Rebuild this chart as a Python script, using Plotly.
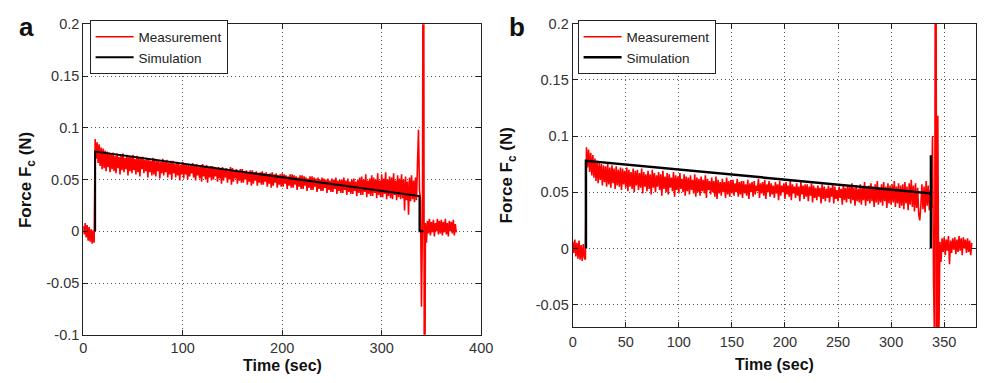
import numpy as np
import plotly.graph_objects as go

# ---------------- data (forces in mN) ----------------
# Panel a: measurement sampled every 1 s from t = 0
meas_a_mN = [
    5, -3, 8, -6, 6, -9, 4, -10, 2, -12,
    1, -11, 89, 70, 86, 66, 84, 63, 81, 60,
    80, 61, 78, 58, 77, 62, 76, 57, 75, 60,
    76, 58, 73, 56, 75, 61, 72, 55, 74, 59,
    75, 57, 71, 60, 74, 54, 73, 58, 72, 56,
    74, 59, 70, 55, 73, 57, 71, 53, 72, 60,
    72, 56, 69, 58, 71, 52, 70, 57, 68, 54,
    71, 55, 70, 53, 68, 58, 69, 51, 67, 56,
    70, 54, 67, 57, 69, 52, 66, 55, 68, 50,
    68, 56, 65, 52, 67, 54, 66, 49, 64, 55,
    67, 51, 66, 55, 64, 50, 65, 53, 63, 56,
    66, 52, 63, 49, 65, 54, 62, 51, 64, 48,
    65, 53, 62, 50, 64, 47, 61, 52, 63, 49,
    63, 50, 62, 53, 60, 48, 62, 51, 61, 46,
    62, 49, 60, 52, 61, 47, 59, 50, 62, 45,
    61, 48, 59, 51, 60, 46, 58, 49, 60, 47,
    60, 47, 58, 50, 59, 45, 57, 48, 59, 44,
    59, 46, 57, 49, 58, 44, 56, 47, 57, 45,
    58, 45, 56, 48, 57, 43, 55, 46, 56, 42,
    57, 44, 55, 47, 56, 42, 54, 45, 55, 43,
    56, 43, 55, 46, 54, 41, 53, 44, 55, 42,
    55, 42, 54, 45, 53, 40, 52, 43, 54, 41,
    54, 41, 53, 44, 52, 39, 51, 42, 53, 40,
    53, 40, 52, 43, 51, 38, 52, 41, 50, 39,
    52, 39, 51, 42, 50, 37, 51, 40, 49, 38,
    51, 38, 50, 41, 52, 36, 49, 39, 50, 37,
    50, 37, 52, 40, 49, 35, 51, 38, 48, 36,
    50, 36, 51, 39, 48, 34, 50, 37, 52, 35,
    53, 35, 50, 38, 55, 33, 49, 36, 51, 34,
    54, 34, 52, 37, 50, 32, 56, 35, 49, 33,
    55, 33, 51, 36, 57, 31, 50, 34, 53, 32,
    52, 31, 56, 35, 49, 30, 54, 33, 51, 31,
    55, 32, 50, 20, 53, 30, 48, 16, 52, 29,
    54, 31, 49, 28, 52, 30, 65, 98, 40, 30,
    -73, 10, 500, -300, 8, -11, 10, -2, 12, -4,
    9, -1, 11, -5, 8, 0, 12, -3, 10, -2,
    11, -4, 9, -1, 12, -3, 8, -5, 10, 0,
    9, -2, 11, -4, 7, -1,
]
sim_a_t = [12, 12, 338, 338, 342]
sim_a_N = [0.0, 0.077, 0.034, 0.0, 0.0]

# Panel b: measurement sampled every 1 s from t = 0
meas_b_mN = [
    6, -4, 8, -7, 5, -9, 7, -10, 3, -11,
    4, -8, -10, 90, 72, 88, 68, 85, 65, 83,
    63, 80, 60, 78, 58, 76, 61, 75, 56, 74,
    59, 73, 55, 75, 57, 72, 54, 74, 58, 71,
    53, 73, 56, 70, 55, 72, 52, 71, 57, 69,
    54, 72, 51, 70, 55, 68, 53, 71, 50, 69,
    56, 70, 52, 67, 54, 71, 49, 68, 55, 66,
    51, 69, 53, 66, 48, 70, 54, 67, 50, 65,
    55, 68, 52, 66, 47, 69, 53, 64, 50, 67,
    48, 66, 54, 63, 51, 68, 46, 65, 52, 64,
    49, 67, 53, 62, 50, 66, 47, 64, 51, 63,
    48, 65, 52, 61, 49, 66, 46, 63, 50, 62,
    47, 64, 51, 61, 49, 65, 45, 62, 52, 60,
    48, 63, 50, 60, 46, 64, 44, 61, 49, 59,
    47, 62, 50, 59, 45, 63, 48, 60, 46, 61,
    49, 61, 47, 58, 50, 62, 46, 59, 48, 60,
    45, 60, 49, 57, 47, 61, 44, 58, 50, 59,
    46, 60, 48, 56, 51, 62, 45, 58, 49, 59,
    47, 61, 44, 57, 50, 60, 46, 58, 48, 56,
    45, 59, 49, 57, 43, 60, 47, 56, 50, 58,
    44, 59, 48, 56, 46, 60, 43, 57, 49, 55,
    45, 58, 47, 55, 42, 59, 48, 56, 44, 57,
    46, 57, 42, 55, 47, 58, 41, 56, 45, 54,
    43, 56, 46, 54, 40, 57, 44, 55, 42, 53,
    45, 56, 41, 54, 46, 57, 40, 55, 44, 52,
    42, 55, 45, 53, 39, 57, 43, 54, 41, 56,
    44, 55, 40, 58, 43, 54, 38, 56, 42, 53,
    41, 57, 39, 55, 43, 59, 38, 54, 42, 56,
    40, 58, 42, 55, 37, 57, 41, 60, 39, 54,
    41, 57, 38, 59, 42, 55, 36, 58, 40, 56,
    39, 57, 41, 60, 37, 55, 40, 58, 36, 56,
    38, 57, 35, 59, 40, 55, 34, 58, 39, 61,
    37, 56, 33, 58, 36, 54, 30, 25, 38, 57,
    35, 55, 32, 60, 38, 56, 34, 52, 36, 100,
    -30, -90, 500, -200, 118, -80, 6, -12, 9, -3,
    10, -6, 8, -2, 11, -14, 7, -4, 9, -1,
    10, -5, 8, -3, 11, -2, 9, -6, 10, 0,
    8, -4, 9, -3, 7, -6, 5,
]
sim_b_t = [12.5, 12.5, 337.5, 337.5, 337.5]
sim_b_N = [0.0, 0.078, 0.049, 0.083, 0.0]

# ticks
ya_vals = [-0.1, -0.05, 0, 0.05, 0.1, 0.15, 0.2]
ya_text = ["-0.1", "-0.05", "0", "0.05", "0.1", "0.15", "0.2"]
xa_vals = [0, 100, 200, 300, 400]
yb_vals = [-0.05, 0, 0.05, 0.1, 0.15, 0.2]
yb_text = ["-0.05", "0", "0.05", "0.1", "0.15", "0.2"]
xb_vals = [0, 50, 100, 150, 200, 250, 300, 350]

# ---------------- figure ----------------
t_a = np.arange(len(meas_a_mN))
t_b = np.arange(len(meas_b_mN))
meas_a = np.array(meas_a_mN) / 1000.0
meas_b = np.array(meas_b_mN) / 1000.0

FONT = "Liberation Sans, Arial, sans-serif"
RED = "#ff0000"

fig = go.Figure()
fig.add_trace(go.Scatter(x=t_a, y=meas_a, mode="lines", name="Measurement",
                         line=dict(color=RED, width=1.6), xaxis="x", yaxis="y",
                         legend="legend"))
fig.add_trace(go.Scatter(x=sim_a_t, y=sim_a_N, mode="lines", name="Simulation",
                         line=dict(color="black", width=2), xaxis="x", yaxis="y",
                         legend="legend"))
fig.add_trace(go.Scatter(x=t_b, y=meas_b, mode="lines", name="Measurement",
                         line=dict(color=RED, width=1.6), xaxis="x2", yaxis="y2",
                         legend="legend2"))
fig.add_trace(go.Scatter(x=sim_b_t, y=sim_b_N, mode="lines", name="Simulation",
                         line=dict(color="black", width=2.5), xaxis="x2", yaxis="y2",
                         legend="legend2"))

W, H = 990, 383


def px_x(p):
    return p / W


def px_y(p):
    return 1 - p / H


axis_common = dict(
    showline=True, linecolor="#222", linewidth=1, mirror="ticks",
    ticks="inside", ticklen=5, tickcolor="#222",
    showgrid=True, gridcolor="#555", griddash="1px,3px", gridwidth=1,
    zeroline=False, tickfont=dict(family=FONT, size=14.5, color="#333"),
)

legend_common = dict(
    bgcolor="white", bordercolor="#222", borderwidth=1,
    font=dict(family=FONT, size=13.5, color="#222"),
    xanchor="left", yanchor="top", tracegroupgap=0, itemwidth=38,
)

fig.update_layout(
    width=W, height=H,
    margin=dict(l=0, r=0, t=0, b=0),
    paper_bgcolor="white", plot_bgcolor="white",
    showlegend=True,
    xaxis=dict(domain=[px_x(80.5), px_x(485)], range=[0, 400], anchor="y",
               tickvals=xa_vals, ticklabelstandoff=0, **axis_common),
    yaxis=dict(domain=[px_y(341), px_y(17)], range=[-0.1, 0.2], anchor="x",
               tickvals=ya_vals, ticktext=ya_text, **axis_common),
    xaxis2=dict(domain=[px_x(578), px_x(988)], range=[0, 380], anchor="y2",
                tickvals=xb_vals, ticklabelstandoff=1, **axis_common),
    yaxis2=dict(domain=[px_y(333.2), px_y(16.2)], range=[-0.07, 0.2], anchor="x2",
                tickvals=yb_vals, ticktext=yb_text, **axis_common),
    legend=dict(x=px_x(87), y=px_y(13), **legend_common),
    legend2=dict(x=px_x(583), y=px_y(13), **legend_common),
)

annots = [
    dict(text="<b>a</b>", x=px_x(23), y=px_y(20), font=dict(size=26)),
    dict(text="<b>b</b>", x=px_x(521), y=px_y(20), font=dict(size=26)),
    dict(text="<b>Time (sec)</b>", x=px_x(283), y=px_y(373), font=dict(size=16)),
    dict(text="<b>Time (sec)</b>", x=px_x(783), y=px_y(372), font=dict(size=16)),
    dict(text="<b>Force F<sub>c</sub> (N)</b>", x=px_x(24), y=px_y(180),
         font=dict(size=17), textangle=-90),
    dict(text="<b>Force F<sub>c</sub> (N)</b>", x=px_x(512), y=px_y(175),
         font=dict(size=17), textangle=-90),
]
for a in annots:
    f = dict(family=FONT, color="#111")
    f.update(a.pop("font"))
    fig.add_annotation(xref="paper", yref="paper", showarrow=False,
                       xanchor="center", yanchor="middle", font=f, **a)

fig.write_html("out.html")
